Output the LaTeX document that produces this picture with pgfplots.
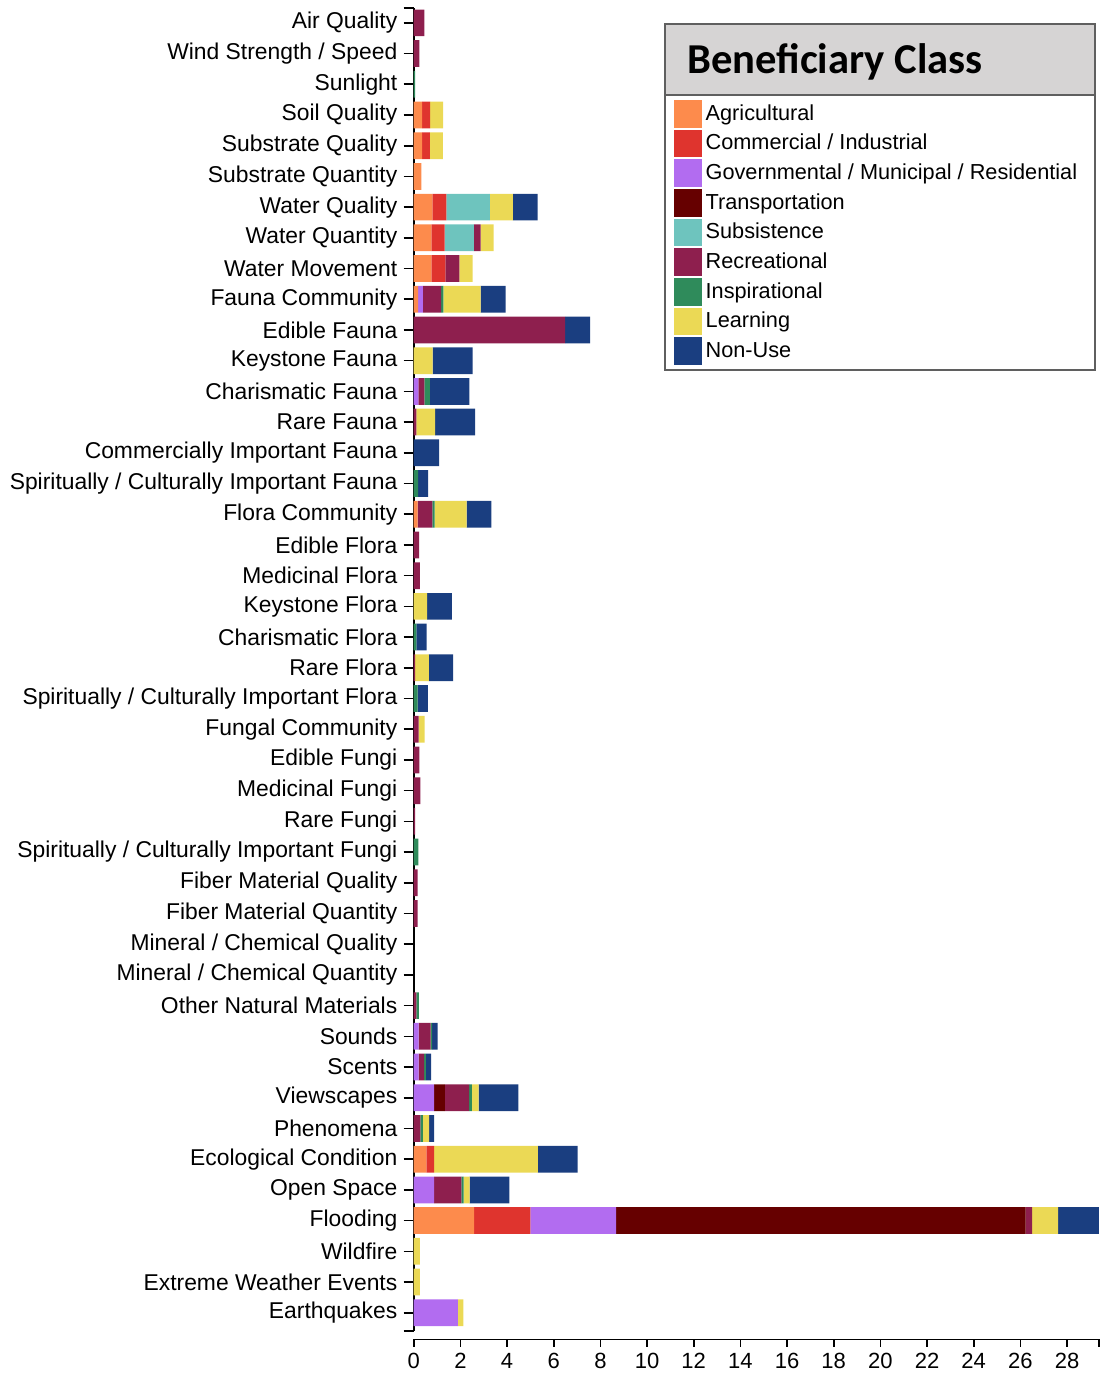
\documentclass[border=0pt]{standalone}
\usepackage{fontspec}
\setmainfont{Liberation Sans}
\newfontfamily\titlefont{Carlito}
\usepackage{pgfplots}
\usepackage{pgfplotstable}
\pgfplotsset{compat=1.18}
\newlength{\px}\setlength{\px}{0.5pt}
\definecolor{agri}{RGB}{253,139,76}
\definecolor{comm}{RGB}{223,52,46}
\definecolor{gov}{RGB}{178,108,240}
\definecolor{trans}{RGB}{102,0,0}
\definecolor{subs}{RGB}{110,196,190}
\definecolor{rec}{RGB}{142,31,78}
\definecolor{insp}{RGB}{47,139,91}
\definecolor{learn}{RGB}{235,217,85}
\definecolor{nonuse}{RGB}{26,62,128}
\definecolor{legborder}{RGB}{95,95,95}
\definecolor{titlegray}{RGB}{214,212,212}
\pgfplotstableread{
idx Ag Co Go Tr Su Re In Le No
0 0 0 0 0 0 0.46 0 0 0
1 0 0 0 0 0 0.24 0 0 0
2 0 0 0 0 0 0 0.06 0 0
3 0.36 0.34 0 0 0 0 0 0.56 0
4 0.36 0.33 0 0 0 0 0 0.56 0
5 0.33 0 0 0 0 0 0 0 0
6 0.80 0.60 0 0 1.86 0 0 0.99 1.06
7 0.76 0.56 0 0 1.26 0.29 0 0.56 0
8 0.76 0.60 0 0 0 0.60 0 0.57 0
9 0.19 0 0.20 0 0 0.79 0.09 1.60 1.07
10 0 0 0 0 0 6.49 0 0 1.07
11 0 0 0 0 0 0 0 0.81 1.71
12 0 0 0.20 0 0 0.26 0.23 0 1.70
13 0 0 0 0 0 0.11 0 0.81 1.71
14 0 0 0 0 0 0 0 0 1.09
15 0 0 0 0 0 0 0.19 0 0.43
16 0.17 0 0 0 0 0.63 0.10 1.37 1.06
17 0 0 0 0 0 0.23 0 0 0
18 0 0 0 0 0 0.26 0 0 0
19 0 0 0 0 0 0 0 0.57 1.07
20 0 0 0 0 0 0 0.11 0 0.44
21 0 0 0 0 0 0.06 0 0.59 1.04
22 0 0 0 0 0 0 0.17 0 0.44
23 0 0 0 0 0 0.21 0 0.26 0
24 0 0 0 0 0 0.24 0 0 0
25 0 0 0 0 0 0.29 0 0 0
26 0 0 0 0 0 0.06 0 0 0
27 0 0 0 0 0 0 0.20 0 0
28 0 0 0 0 0 0.17 0 0 0
29 0 0 0 0 0 0.17 0 0 0
30 0 0 0 0 0 0 0 0 0
31 0 0 0 0 0 0 0 0 0
32 0 0 0 0 0 0.11 0.11 0 0
33 0 0 0.21 0 0 0.51 0.07 0 0.23
34 0 0 0.21 0 0 0.24 0.07 0 0.23
35 0 0 0.87 0.47 0 1.04 0.11 0.29 1.71
36 0 0 0 0 0 0.29 0.10 0.27 0.21
37 0.54 0.34 0 0 0 0 0 4.44 1.71
38 0 0 0.87 0 0 1.17 0.10 0.26 1.70
39 2.59 2.41 3.68 17.55 0 0.27 0 1.12 1.74
40 0 0 0 0 0 0 0 0.26 0
41 0 0 0 0 0 0 0 0.26 0
42 0 0 1.89 0 0 0 0 0.24 0
}\datatable
\begin{document}
\begin{tikzpicture}
\useasboundingbox (0,0) rectangle (1119\px,-1382\px);
% legend frame and title
\fill[white] (665\px,-24\px) rectangle (1095\px,-369.7\px);
\fill[titlegray] (665\px,-24\px) rectangle (1095\px,-95.3\px);
\draw[legborder, line width=2\px] (665\px,-95.3\px) -- (1095\px,-95.3\px);
\draw[legborder, line width=2\px] (665\px,-24\px) rectangle (1095\px,-369.7\px);
\node[anchor=base west, inner sep=0pt, font=\titlefont\bfseries\fontsize{21.3}{25}\selectfont] at (686.7\px,-73\px) {Beneficiary Class};
\begin{axis}[
  at={(413.7\px,-1330.7\px)}, anchor=south west,
  scale only axis, width=685.3\px, height=1322.6\px,
  xbar stacked, bar width=0.87,
  xmin=0, xmax=29.37, ymin=-0.48, ymax=42.586, y dir=reverse,
  axis x line=none, axis y line*=left,
  ytick={0,...,42},
  yticklabels={Air Quality, Wind Strength / Speed, Sunlight, Soil Quality, Substrate Quality, Substrate Quantity, Water Quality, Water Quantity, Water Movement, Fauna Community, Edible Fauna, Keystone Fauna, Charismatic Fauna, Rare Fauna, Commercially Important Fauna, Spiritually / Culturally Important Fauna, Flora Community, Edible Flora, Medicinal Flora, Keystone Flora, Charismatic Flora, Rare Flora, Spiritually / Culturally Important Flora, Fungal Community, Edible Fungi, Medicinal Fungi, Rare Fungi, Spiritually / Culturally Important Fungi, Fiber Material Quality, Fiber Material Quantity, Mineral / Chemical Quality, Mineral / Chemical Quantity, Other Natural Materials, Sounds, Scents, Viewscapes, Phenomena, Ecological Condition, Open Space, Flooding, Wildfire, Extreme Weather Events, Earthquakes},
  extra y ticks={-0.48,42.586}, extra y tick labels={},
  tick align=outside, major tick length=10\px,
  y axis line style={line width=1.6\px, black},
  ytick style={line width=1.6\px, black},
  yticklabel style={font=\fontsize{11.43}{13}\selectfont, inner sep=0pt, text=black},
  yticklabel shift=6\px,
  legend style={at={(axis description cs:0.3798,0.9312)}, anchor=north west, draw=none, fill=none, inner sep=0pt, outer sep=0pt, row sep=0pt,
    font=\fontsize{10.85}{12}\selectfont, nodes={inner sep=0pt, minimum height=29.65\px}},
  legend cell align=left,
  legend image code/.code={\fill[#1] (0pt,-13.85\px) rectangle (27.7\px,13.85\px); \path (31.7\px,0pt);},
]
\addplot[fill=agri, draw=none] table[x=Ag, y=idx] {\datatable}; \addlegendentry{Agricultural}
\addplot[fill=comm, draw=none] table[x=Co, y=idx] {\datatable}; \addlegendentry{Commercial / Industrial}
\addplot[fill=gov, draw=none] table[x=Go, y=idx] {\datatable}; \addlegendentry{Governmental / Municipal / Residential}
\addplot[fill=trans, draw=none] table[x=Tr, y=idx] {\datatable}; \addlegendentry{Transportation}
\addplot[fill=subs, draw=none] table[x=Su, y=idx] {\datatable}; \addlegendentry{Subsistence}
\addplot[fill=rec, draw=none] table[x=Re, y=idx] {\datatable}; \addlegendentry{Recreational}
\addplot[fill=insp, draw=none] table[x=In, y=idx] {\datatable}; \addlegendentry{Inspirational}
\addplot[fill=learn, draw=none] table[x=Le, y=idx] {\datatable}; \addlegendentry{Learning}
\addplot[fill=nonuse, draw=none] table[x=No, y=idx] {\datatable}; \addlegendentry{Non-Use}
\end{axis}
\begin{axis}[
  at={(413.7\px,-1339.3\px)}, anchor=south west,
  scale only axis, width=685.3\px, height=20\px,
  xmin=0, xmax=29.37, ymin=0, ymax=1,
  axis x line*=bottom, axis y line=none,
  xtick={0,2,...,28}, extra x ticks={29.37}, extra x tick labels={},
  tick align=outside, major tick length=7.3\px,
  x axis line style={line width=1.6\px, black},
  xtick style={line width=1.6\px, black},
  xticklabel style={font=\fontsize{11}{13}\selectfont, inner sep=0pt, text=black},
  xticklabel shift=6\px,
  /pgf/number format/assume math mode=true,
]
\addplot[draw=none] coordinates {(0,0)};
\end{axis}
\end{tikzpicture}
\end{document}
